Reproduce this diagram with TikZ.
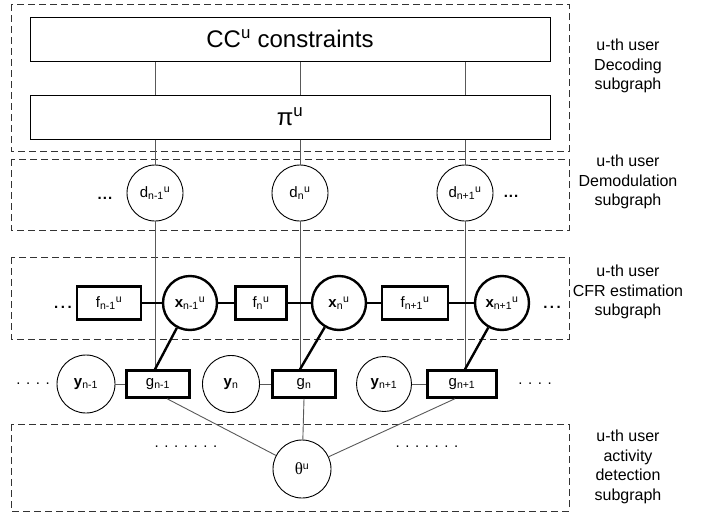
\documentclass[tikz,border=0pt]{standalone}
\usepackage{fontspec}
\setmainfont{Liberation Sans}
\newfontfamily\grkfont{Liberation Serif}

\begin{document}
\begin{tikzpicture}[x=1pt,y=-1pt,font=\fontsize{15}{19}\selectfont,
	grp/.style={draw=black!80,line width=0.9pt,dash pattern=on 7pt off 4pt},
	blk/.style={draw,line width=1pt,minimum width=520pt,minimum height=44pt,inner sep=0pt,font=\fontsize{24}{28}\selectfont},
	var/.style={draw,circle,line width=0.9pt,minimum size=56pt,inner sep=0pt},
	bvar/.style={var,line width=2.4pt,minimum size=54pt},
	fac/.style={draw,line width=2.4pt,minimum height=33pt,inner sep=0pt},
	gfac/.style={fac,minimum height=27pt},
	edge/.style={draw=black!65,line width=0.9pt},
	bedge/.style={draw,line width=2.4pt},
	lbl/.style={align=center,font=\fontsize{16}{19.5}\selectfont}]
	\useasboundingbox (0,0) rectangle (713,512);
	\foreach \t/\b in {4/151,159/230,257/339,424/511}{
		\draw[grp] (11,\t) rectangle (569,\b);}
	\node[lbl] (ldec) at (628,66) {u-th user\\Decoding\\subgraph};
	\node[lbl] (ldem) at (628,182) {u-th user\\Demodulation\\subgraph};
	\node[lbl] (lcfr) at (628,292) {u-th user\\CFR estimation\\subgraph};
	\node[lbl] (lact) at (628,467) {u-th user\\activity\\detection\\subgraph};
	\node[blk] (cc) at (290,39) {CC\textsuperscript{u} constraints};
	\node[blk] (pi) at (290,117) {π\textsuperscript{u}};
	\node[var] (d1) at (155,193) {d\textsubscript{n-1}\textsuperscript{u}};
	\node[var] (d2) at (300,193) {d\textsubscript{n}\textsuperscript{u}};
	\node[var] (d3) at (465,193) {d\textsubscript{n+1}\textsuperscript{u}};
	\node[fac,minimum width=64pt] (f1) at (109,303) {f\textsubscript{n-1}\textsuperscript{u}};
	\node[bvar] (x1) at (190,303) {\textbf{x}\textsubscript{n-1}\textsuperscript{u}};
	\node[fac,minimum width=51pt] (f2) at (261,303) {f\textsubscript{n}\textsuperscript{u}};
	\node[bvar] (x2) at (339,303) {\textbf{x}\textsubscript{n}\textsuperscript{u}};
	\node[fac,minimum width=66pt] (f3) at (415,303) {f\textsubscript{n+1}\textsuperscript{u}};
	\node[bvar] (x3) at (502,303) {\textbf{x}\textsubscript{n+1}\textsuperscript{u}};
	\node[var,minimum size=58pt] (y1) at (86,384) {\textbf{y}\textsubscript{n-1}};
	\node[gfac,minimum width=63pt] (g1) at (158,384) {g\textsubscript{n-1}};
	\node[var,minimum size=57pt] (y2) at (231,384) {\textbf{y}\textsubscript{n}};
	\node[gfac,minimum width=63pt] (g2) at (304,384) {g\textsubscript{n}};
	\node[var,minimum size=55pt] (y3) at (384,384) {\textbf{y}\textsubscript{n+1}};
	\node[gfac,minimum width=69pt] (g3) at (462,384) {g\textsubscript{n+1}};
	\node[var,minimum size=58pt] (th) at (302,469) {{\grkfont\fontsize{17}{19}\selectfont θ}\textsuperscript{u}};
	\node (dd1) at (105,198) {\textbf{.\kern1pt.\kern1pt.}};
	\node (dd2) at (511,196) {\textbf{.\kern1pt.\kern1pt.}};
	\node (df1) at (63,307) {\textbf{.\,.\,.}};
	\node (df2) at (552,307) {\textbf{.\,.\,.}};
	\node (dg1) at (33,384) {. . . .};
	\node (dg2) at (535,384) {. . . .};
	\node (dt1) at (186,447) {. . . . . . .};
	\node (dt2) at (427,447) {. . . . . . .};
	\foreach \d/\g in {d1/g1,d2/g2,d3/g3}{
		\draw[edge] (cc.south -| \d) -- (pi.north -| \d);
		\draw[edge] (pi.south -| \d) -- (\d) -- (\g.north -| \d);}
	\draw[bedge] (f1) -- (x1) -- (f2) -- (x2) -- (f3) -- (x3);
	\foreach \x/\g/\d in {x1/g1/d1,x2/g2/d2,x3/g3/d3}{
		\draw[bedge] (\x) -- (\g.north -| \d);}
	\draw[edge] (y1) -- (g1);
	\draw[edge] (y2) -- (g2);
	\draw[edge] (y3) -- (g3);
	\draw[edge] ([xshift=9pt]g1.south) -- (th);
	\draw[edge] (g2.south) -- (th);
	\draw[edge] ([xshift=-7pt]g3.south) -- (th);
\end{tikzpicture}
\end{document}
